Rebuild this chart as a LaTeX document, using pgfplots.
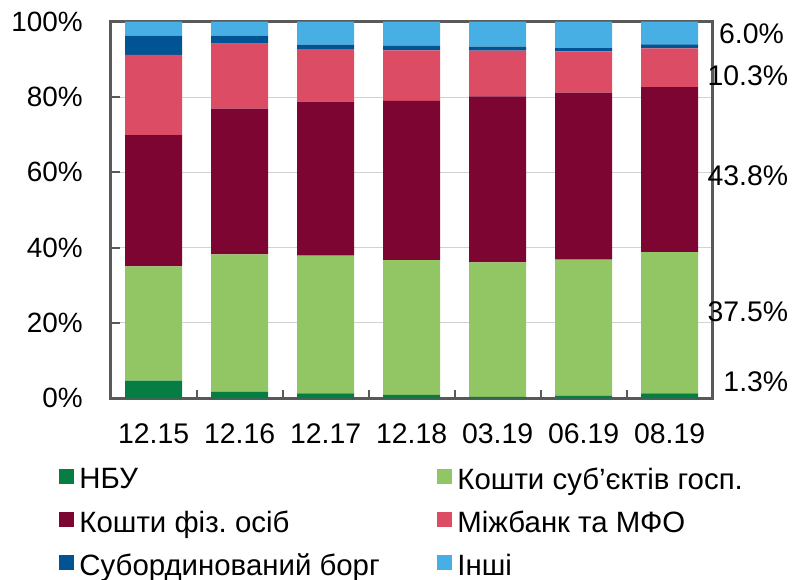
\documentclass[border=0pt]{standalone}
\usepackage{fontspec}
\setmainfont{Liberation Sans}
\usepackage{pgfplots}
\pgfplotsset{compat=1.18}
\frenchspacing

\definecolor{nbu}{HTML}{067D43}
\definecolor{gosp}{HTML}{92C665}
\definecolor{fiz}{HTML}{7D0532}
\definecolor{mizh}{HTML}{DC4C64}
\definecolor{sub}{HTML}{005493}
\definecolor{inshi}{HTML}{47AFE3}
\definecolor{axgray}{HTML}{595959}

% legend text: fixed row height
\newcommand{\legtxt}[1]{\fontsize{29.5}{31}\selectfont\vphantom{Ку}#1}

\begin{document}
\begin{tikzpicture}
\begin{axis}[
  name=ax,
  at={(0,0)}, anchor=south west,
  scale only axis,
  width=602bp, height=376.6bp,
  ybar stacked,
  bar width=57bp,
  xmin=-0.5, xmax=6.5,
  ymin=0, ymax=100,
  clip=false,
  axis line style={draw=axgray, line width=2.5bp},
  xtick={0,...,6},
  xticklabels={12.15,12.16,12.17,12.18,03.19,06.19,08.19},
  minor xtick={0.5,1.5,...,5.5},
  major x tick style={draw=none},
  minor tick style={draw=axgray, line width=2bp},
  minor tick length=8bp,
  x tick label style={font=\fontsize{28.5}{30}\selectfont, yshift=-21.5bp},
  ytick={0,20,...,100},
  yticklabels={0\%,20\%,40\%,60\%,80\%,100\%},
  major y tick style={draw=axgray, line width=2bp},
  major tick length=9bp,
  tick align=inside,
  ymajorgrids,
  grid style={draw=gray!35, line width=1bp},
  y tick label style={font=\fontsize{28}{30}\selectfont, xshift=-24.5bp},
  xtick pos=bottom, ytick pos=left,
  legend columns=2,
  legend cell align=left,
  legend style={at={(axis description cs:-0.0854,-0.157)}, anchor=north west,
    draw=none, fill=none, inner sep=0pt, row sep=0pt, column sep=0pt,
    nodes={inner xsep=5bp, inner ysep=10bp}},
  legend image code/.code={\draw[#1, draw=none] (0bp,-4.5bp) rectangle (15bp,10.5bp);},
]
\addplot[fill=nbu, draw=none] coordinates {(0,4.7) (1,1.8) (2,1.3) (3,0.9) (4,0.4) (5,0.7) (6,1.3)};
\addlegendentry{\makebox[353bp][l]{\legtxt{НБУ}}}
\addplot[fill=gosp, draw=none] coordinates {(0,30.3) (1,36.4) (2,36.6) (3,35.8) (4,35.7) (5,36.1) (6,37.5)};
\addlegendentry{\legtxt{Кошти суб’єктів госп.}}
\addplot[fill=fiz, draw=none] coordinates {(0,34.9) (1,38.7) (2,40.9) (3,42.3) (4,44.1) (5,44.4) (6,43.8)};
\addlegendentry{\makebox[353bp][l]{\legtxt{Кошти фіз. осіб}}}
\addplot[fill=mizh, draw=none] coordinates {(0,21.3) (1,17.3) (2,13.9) (3,13.4) (4,12.1) (5,10.9) (6,10.3)};
\addlegendentry{\legtxt{Міжбанк та МФО}}
\addplot[fill=sub, draw=none] coordinates {(0,5.1) (1,2.1) (2,1.2) (3,1.2) (4,1.1) (5,0.9) (6,1.1)};
\addlegendentry{\makebox[353bp][l]{\legtxt{Субординований борг}}}
\addplot[fill=inshi, draw=none] coordinates {(0,3.7) (1,3.7) (2,6.1) (3,6.4) (4,6.6) (5,7.0) (6,6.0)};
\addlegendentry{\legtxt{Інші}}

\node[font=\fontsize{28.5}{30}\selectfont, anchor=east, inner sep=0pt] at (axis cs:7.33,96.7) {6.0\%};
\node[font=\fontsize{28.5}{30}\selectfont, anchor=east, inner sep=0pt] at (axis cs:7.38,85.6) {10.3\%};
\node[font=\fontsize{28.5}{30}\selectfont, anchor=east, inner sep=0pt] at (axis cs:7.38,59.0) {43.8\%};
\node[font=\fontsize{28.5}{30}\selectfont, anchor=east, inner sep=0pt] at (axis cs:7.38,22.9) {37.5\%};
\node[font=\fontsize{28.5}{30}\selectfont, anchor=east, inner sep=0pt] at (axis cs:7.38,4.3) {1.3\%};
\end{axis}
\pgfresetboundingbox
\path[use as bounding box] (-110.7bp,-181.7bp) rectangle +(792bp,580bp);
\end{tikzpicture}
\end{document}
